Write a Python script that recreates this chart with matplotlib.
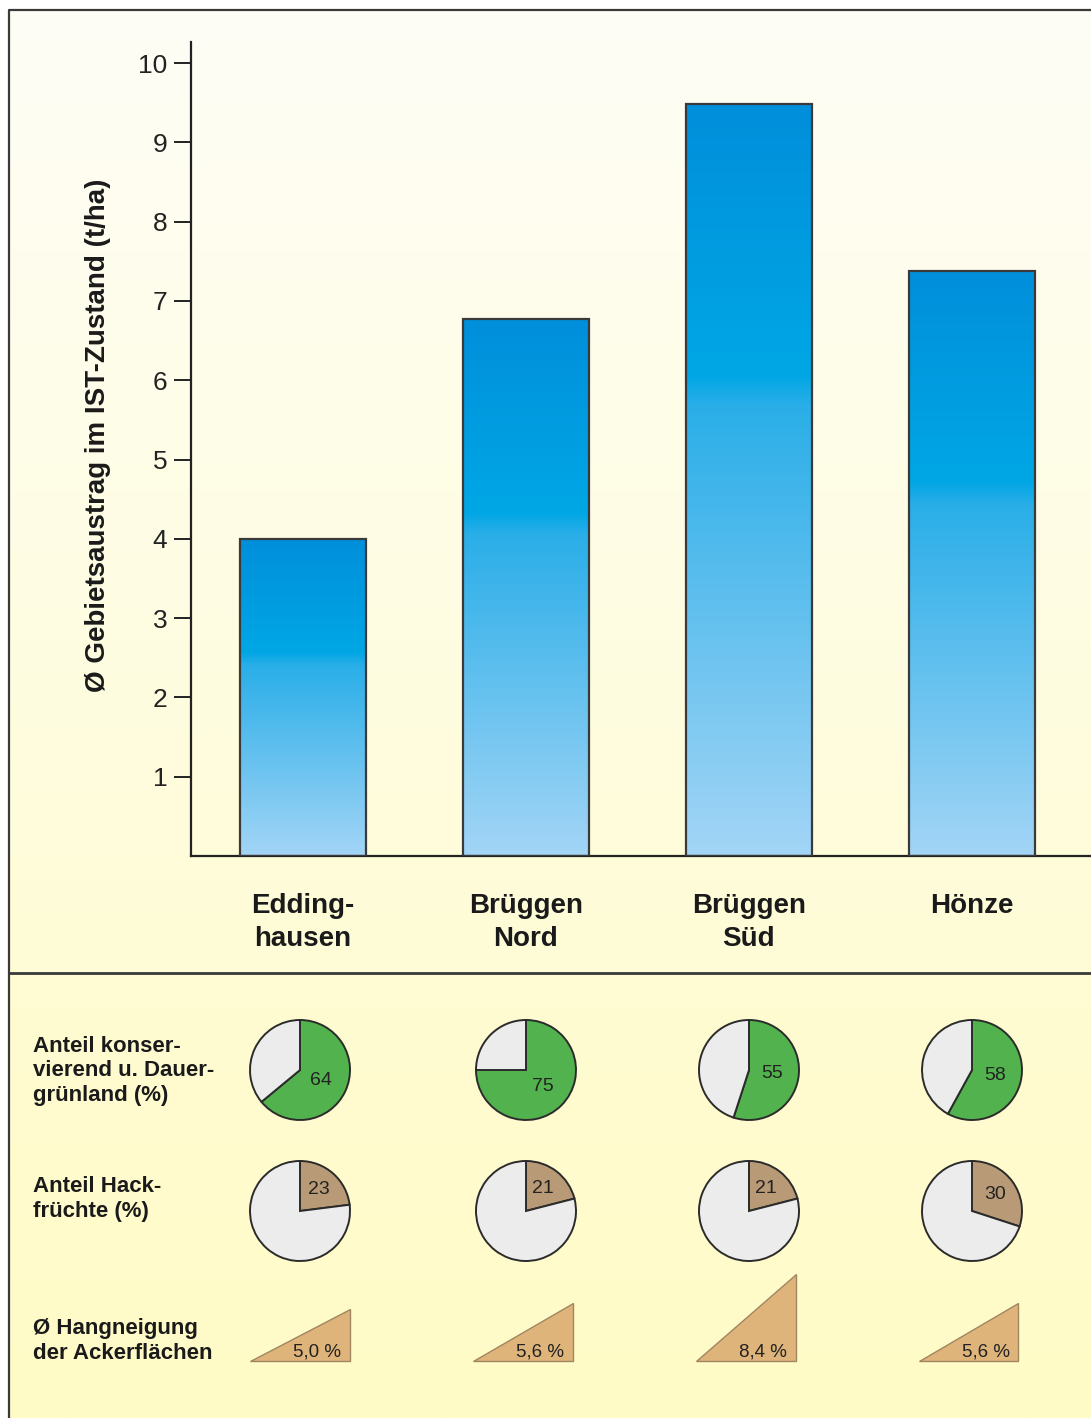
import matplotlib
matplotlib.use("Agg")
import matplotlib.pyplot as plt
import numpy as np
from matplotlib.colors import LinearSegmentedColormap, to_rgb
from matplotlib.patches import Polygon

plt.rcParams['font.family'] = ['Liberation Sans', 'DejaVu Sans']

# data
gebiete = ['Edding-\nhausen', 'Brüggen\nNord', 'Brüggen\nSüd', 'Hönze']
austrag = [4.0, 6.77, 9.48, 7.38]          # t/ha
gruenland = [64, 75, 55, 58]               # %
hackfruechte = [23, 21, 21, 30]            # %
hangneigung = [5.0, 5.6, 8.4, 5.6]         # %
hang_txt = ['5,0 %', '5,6 %', '8,4 %', '5,6 %']
yticks = [1, 2, 3, 4, 5, 6, 7, 8, 9, 10]

W, H = 1091, 1418
fig = plt.figure(figsize=(W / 100, H / 100), dpi=100)

def px(x0, y0, x1, y1):
    # pixel box (top-left origin) -> figure fraction rect
    return [x0 / W, 1 - y1 / H, (x1 - x0) / W, (y1 - y0) / H]

# background with gradients and frame
bg = fig.add_axes([0, 0, 1, 1], zorder=-10)
bg.set_xlim(0, W)
bg.set_ylim(H, 0)
bg.axis('off')
top_c = np.array([to_rgb('#fefef6'), to_rgb('#fffcd6')])
bot_c = np.array([to_rgb('#fffcd3'), to_rgb('#fffbc6')])
t = np.linspace(0, 1, 200)[:, None]
grad_top = (top_c[0] * (1 - t) + top_c[1] * t)[:, None, :]
grad_bot = (bot_c[0] * (1 - t) + bot_c[1] * t)[:, None, :]
bg.imshow(grad_top, extent=[9, W, 973, 10], aspect='auto')
bg.imshow(grad_bot, extent=[9, W, H, 973], aspect='auto')
bg.plot([9, 9, W], [H, 10, 10], color='#3a3a3a', lw=1.6)
bg.plot([9, W], [973, 973], color='#3a3a3a', lw=2)

# bar chart
x = np.arange(len(gebiete))
ax = fig.add_axes(px(191, 42, W, 856))
ax.set_facecolor('none')
for s in ['top', 'right']:
    ax.spines[s].set_visible(False)
for s in ['left', 'bottom']:
    ax.spines[s].set_color('#222222')
    ax.spines[s].set_linewidth(1.6)
ax.set_yticks(yticks)
ax.set_yticklabels([str(v) for v in yticks], fontsize=19, color='#222222')
ax.tick_params(axis='y', direction='out', length=12, width=1.4, pad=5, color='#222222')
ax.set_xticks(x)
ax.set_xticklabels(gebiete, fontsize=20, fontweight='bold', color='#1a1a1a', va='top',
                   linespacing=1.32)
ax.tick_params(axis='x', length=0, pad=27)

cmap = LinearSegmentedColormap.from_list('blau', [
    (0.0, '#a3d5f6'), (0.60, '#2aaee8'), (0.64, '#00a7e5'), (1.0, '#008fdb')])
grad = np.linspace(0, 1, 256)[:, None]
bars = ax.bar(x, austrag, width=0.566, facecolor='none', edgecolor='#3a3a3a',
              linewidth=1.6, zorder=3)
for b in bars:
    bx, by = b.get_x(), b.get_y()
    im = ax.imshow(grad, cmap=cmap, origin='lower', aspect='auto',
                   extent=[bx, bx + b.get_width(), by, by + b.get_height()], zorder=2)
    im.set_clip_path(b)
ax.set_xlim(-0.503, 3.536)
ax.set_ylim(0, 10.265)

fig.text(98 / W, 1 - 435 / H, 'Ø Gebietsaustrag im IST-Zustand (t/ha)', rotation=90,
         ha='center', va='center', fontsize=20, fontweight='bold', color='#1a1a1a')

# row labels
row_kw = dict(ha='left', va='center', fontsize=16, fontweight='bold', color='#1a1a1a',
              linespacing=1.22)
fig.text(33 / W, 1 - 1071 / H, 'Anteil konser-\nvierend u. Dauer-\ngrünland (%)', **row_kw)
fig.text(33 / W, 1 - 1199 / H, 'Anteil Hack-\nfrüchte (%)', **row_kw)
fig.text(33 / W, 1 - 1341 / H, 'Ø Hangneigung\nder Ackerflächen', **row_kw)

# pies
pie_cx = [300, 526, 749, 972]

def draw_pie(cx, cy, val, col, r_lab):
    pa = fig.add_axes(px(cx - 55, cy - 55, cx + 55, cy + 55))
    pa.set_facecolor('none')
    wedges, _ = pa.pie([val, 100 - val], startangle=90, counterclock=False,
                       colors=[col, '#ececec'],
                       wedgeprops=dict(edgecolor='#2b2b2b', linewidth=1.4))
    pa.set_xlim(-1.1, 1.1)
    pa.set_ylim(-1.1, 1.1)
    pa.set_aspect('equal')
    w = wedges[0]
    ang = np.deg2rad((w.theta1 + w.theta2) / 2)
    pa.text(r_lab * np.cos(ang), r_lab * np.sin(ang), str(val), ha='center',
            va='center', fontsize=14, color='#222222')

for cx, g in zip(pie_cx, gruenland):
    draw_pie(cx, 1070, g, '#52b34e', 0.47)
for cx, h in zip(pie_cx, hackfruechte):
    draw_pie(cx, 1211, h, '#b99a77', 0.56)

# slope triangles
ta = fig.add_axes(px(188, 1261, W - 3, 1361))
ta.set_facecolor('none')
ta.axis('off')
ta.set_xlim(-0.503, 3.536)
ta.set_ylim(0, 9.7)
half = 0.224
for xi, hn, lab in zip(x, hangneigung, hang_txt):
    tri = Polygon([(xi - half, 0), (xi + half, 0), (xi + half, hn)], closed=True,
                  facecolor='#deb47a', edgecolor='#a08660', linewidth=1.0, clip_on=False)
    ta.add_patch(tri)
    ta.text(xi + half - 0.04, 0.4, lab, ha='right', va='baseline', fontsize=13.5,
            color='#222222')

fig.savefig('out.png', dpi=100)
